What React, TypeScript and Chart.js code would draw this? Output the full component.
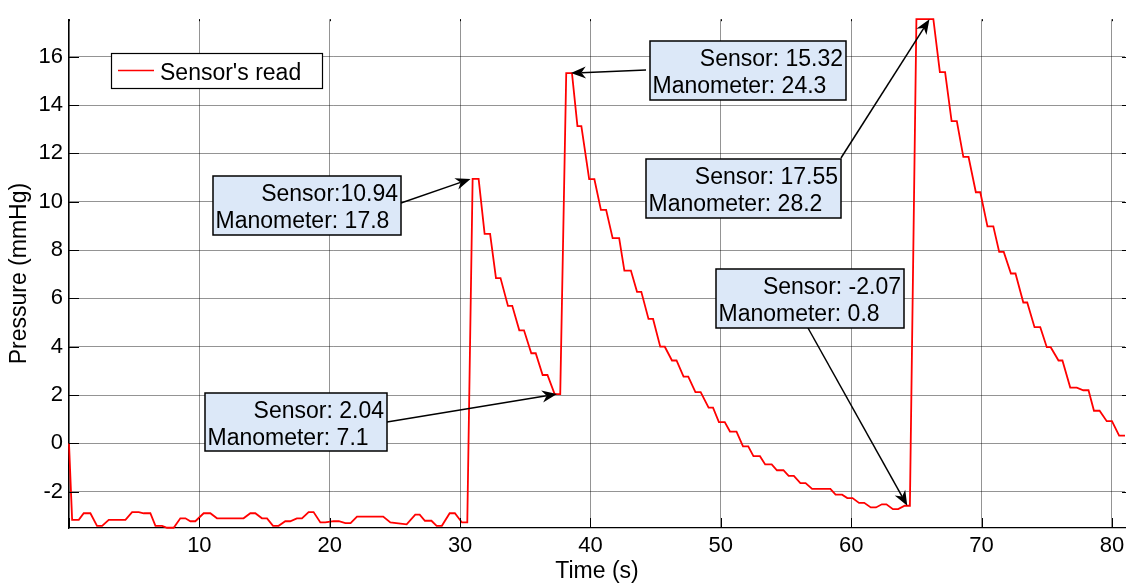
import React, { useEffect, useRef } from "react";
import { Chart, registerables } from "chart.js";

Chart.register(...registerables);

// ---------------- data ----------------
const timeS = [
  0, 0.24, 0.75, 1.13, 1.64, 2.15, 2.54, 3.05, 4.33, 4.84, 5.35, 5.73, 6.24, 6.63, 7.14, 7.52, 8.03,
  8.54, 8.93, 9.31, 9.69, 10.33, 10.84, 11.35, 13.39, 13.91, 14.29, 14.8, 15.19, 15.65, 16.08, 16.59,
  16.97, 17.48, 17.87, 18.38, 18.76, 19.28, 19.66, 20.3, 20.7, 21.2, 21.6, 22.09, 24.1, 24.65, 25.1,
  25.9, 26.56, 26.9, 27.3, 27.8, 28.2, 28.6, 29.2, 29.6, 30.14, 30.55,
  30.96, 31.42, 31.88, 32.3, 32.75, 33.1, 33.67, 34.0, 34.54, 34.9, 35.46, 35.8, 36.33, 36.7, 37.25, 37.68,
  38.14, 38.58, 39.0, 39.3, 39.9, 40.3, 40.8, 41.2, 41.7, 42.2, 42.6, 43.1, 43.57, 43.9, 44.45, 44.8,
  45.35, 45.7, 46.25, 46.6, 47.14, 47.5, 48.05, 48.45, 49.06, 49.4, 49.85, 50.3, 50.7, 51.2, 51.7, 52.1,
  52.5, 53.0, 53.4, 53.9, 54.3, 54.8, 55.2, 55.6, 56.1, 56.5, 57.0, 58.4, 58.8, 59.3, 59.7, 60.1, 60.6,
  61.0, 61.5, 61.9, 62.35, 62.7, 63.2, 63.6, 64.1, 64.5,
  65.0, 66.3, 66.8, 67.2, 67.7, 68.1, 68.6, 69.0, 69.56, 69.9, 70.45, 70.9, 71.35, 71.7, 72.25, 72.6,
  73.2, 73.5, 74.06, 74.5, 75.0, 75.3, 75.9, 76.2, 76.8, 77.3, 77.8, 78.2, 78.62, 79.05, 79.6, 80.0,
  80.55, 81.0,
];

const pressure = [
  0, -3.16, -3.16, -2.89, -2.89, -3.41, -3.41, -3.16, -3.16, -2.84, -2.84, -2.89, -2.89, -3.41, -3.41,
  -3.49, -3.49, -3.1, -3.1, -3.22, -3.22, -2.89, -2.89, -3.1, -3.1, -2.89, -2.89, -3.1, -3.1, -3.41,
  -3.41, -3.22, -3.22, -3.1, -3.1, -2.84, -2.84, -3.27, -3.27, -3.22, -3.22, -3.3, -3.3, -3.03, -3.03,
  -3.27, -3.3, -3.35, -2.95, -2.95, -3.2, -3.2, -3.41, -3.41, -2.89, -2.89, -3.27, -3.27,
  10.94, 10.94, 8.67, 8.67, 6.84, 6.84, 5.69, 5.69, 4.68, 4.68, 3.73, 3.73, 2.83, 2.83, 2.04, 2.04,
  15.32, 15.32, 13.13, 13.13, 10.93, 10.93, 9.66, 9.66, 8.49, 8.49, 7.15, 7.15, 6.27, 6.27, 5.15, 5.15,
  4.0, 4.0, 3.43, 3.43, 2.76, 2.76, 2.12, 2.12, 1.48, 1.48, 0.88, 0.88, 0.49, 0.49, -0.12, -0.12,
  -0.53, -0.53, -0.87, -0.87, -1.11, -1.11, -1.34, -1.34, -1.64, -1.64, -1.88, -1.88, -2.12, -2.12,
  -2.26, -2.26, -2.46, -2.46, -2.65, -2.65, -2.52, -2.52, -2.72, -2.72, -2.58, -2.58,
  17.55, 17.55, 15.36, 15.36, 13.33, 13.33, 11.85, 11.85, 10.39, 10.39, 8.98, 8.98, 7.92, 7.92, 7.03,
  7.03, 5.83, 5.83, 4.81, 4.81, 3.98, 3.98, 3.43, 3.43, 2.31, 2.31, 2.2, 2.2, 1.35, 1.35, 0.92, 0.92,
  0.32, 0.32,
];

const xTickValues = [0, 10, 20, 30, 40, 50, 60, 70, 80];
const yTickValues = [-2, 0, 2, 4, 6, 8, 10, 12, 14, 16];
const xRange = [0, 81];
const yRange = [-3.5, 17.55];

const seriesLabel = "Sensor's read";
const xTitle = "Time (s)";
const yTitle = "Pressure (mmHg)";

const calloutSensor = ["Sensor:10.94", "Sensor: 2.04", "Sensor: 15.32", "Sensor: 17.55", "Sensor: -2.07"];
const calloutManometer = ["Manometer: 17.8", "Manometer: 7.1", "Manometer: 24.3", "Manometer: 28.2", "Manometer: 0.8"];
const calloutTipTime = [30.8, 37.43, 38.5, 66.0, 64.3];
const calloutTipPressure = [10.94, 2.04, 15.32, 17.55, -2.58];

// ---------------- layout / style ----------------
const W = 1135;
const H = 587;
const FONT = '"Liberation Sans", Arial, Helvetica, sans-serif';
const CALLOUT_BOXES = [
  [213, 176, 401, 235],
  [205, 393, 387, 451],
  [650, 41, 846, 100],
  [646, 159, 841, 218],
  [716, 269, 904, 328],
];
const CALLOUT_ARROW_START = [
  [401, 203],
  [387, 422],
  [646, 70],
  [841, 158],
  [808, 328],
];
const LEGEND_BOX = [111, 53, 322, 88];

const overlayPlugin = {
  id: "overlay",
  afterDraw(chart: any) {
    const { ctx, chartArea, scales } = chart;
    const xs = scales.x;
    const ys = scales.y;
    ctx.save();

    // inward tick marks
    ctx.strokeStyle = "#000";
    ctx.lineWidth = 1;
    ctx.beginPath();
    xTickValues.forEach((v) => {
      const px = Math.round(xs.getPixelForValue(v)) + 0.5;
      ctx.moveTo(px, chartArea.bottom);
      ctx.lineTo(px, chartArea.bottom - 10);
      ctx.moveTo(px, chartArea.top);
      ctx.lineTo(px, chartArea.top + 2);
    });
    yTickValues.forEach((v) => {
      const py = Math.round(ys.getPixelForValue(v)) + 0.5;
      ctx.moveTo(chartArea.left, py);
      ctx.lineTo(chartArea.left + 10, py);
      ctx.moveTo(chartArea.right - 3, py);
      ctx.lineTo(chartArea.right + 1, py);
    });
    ctx.stroke();

    // legend
    const [lx1, ly1, lx2, ly2] = LEGEND_BOX;
    ctx.fillStyle = "#fff";
    ctx.fillRect(lx1, ly1, lx2 - lx1, ly2 - ly1);
    ctx.strokeStyle = "#000";
    ctx.lineWidth = 1.2;
    ctx.strokeRect(lx1 + 0.5, ly1 + 0.5, lx2 - lx1, ly2 - ly1);
    ctx.strokeStyle = "#ff0000";
    ctx.lineWidth = 1.5;
    ctx.beginPath();
    ctx.moveTo(lx1 + 7, ly1 + 17.5);
    ctx.lineTo(lx1 + 43, ly1 + 17.5);
    ctx.stroke();
    ctx.fillStyle = "#000";
    ctx.font = `23px ${FONT}`;
    ctx.textBaseline = "alphabetic";
    ctx.textAlign = "left";
    ctx.fillText(seriesLabel, lx1 + 49, ly1 + 27);

    // callouts
    calloutSensor.forEach((s, i) => {
      const [x1, y1, x2, y2] = CALLOUT_BOXES[i];
      const [sx, sy] = CALLOUT_ARROW_START[i];
      const tx = xs.getPixelForValue(calloutTipTime[i]);
      const ty = ys.getPixelForValue(calloutTipPressure[i]);

      // arrow shaft
      const ang = Math.atan2(ty - sy, tx - sx);
      const L = 15;
      const hw = 6;
      const bx = tx - Math.cos(ang) * L * 0.7;
      const by = ty - Math.sin(ang) * L * 0.7;
      ctx.strokeStyle = "#000";
      ctx.lineWidth = 1.5;
      ctx.beginPath();
      ctx.moveTo(sx, sy);
      ctx.lineTo(bx, by);
      ctx.stroke();
      // arrow head (vback2 style)
      const backX = tx - Math.cos(ang) * L;
      const backY = ty - Math.sin(ang) * L;
      const nx = -Math.sin(ang);
      const ny = Math.cos(ang);
      ctx.fillStyle = "#000";
      ctx.beginPath();
      ctx.moveTo(tx, ty);
      ctx.lineTo(backX + nx * hw, backY + ny * hw);
      ctx.lineTo(bx, by);
      ctx.lineTo(backX - nx * hw, backY - ny * hw);
      ctx.closePath();
      ctx.fill();

      // box
      ctx.fillStyle = "#dce8f8";
      ctx.fillRect(x1, y1, x2 - x1, y2 - y1);
      ctx.strokeStyle = "#000";
      ctx.lineWidth = 1.5;
      ctx.strokeRect(x1, y1, x2 - x1, y2 - y1);
      ctx.fillStyle = "#000";
      ctx.font = `23px ${FONT}`;
      ctx.textBaseline = "alphabetic";
      ctx.textAlign = "right";
      ctx.fillText(s, x2 - 3, y1 + 24.5);
      ctx.textAlign = "left";
      ctx.fillText(calloutManometer[i], x1 + 2.5, y1 + 52);
    });

    ctx.restore();
  },
};

export default function App() {
  const canvasRef = useRef<HTMLCanvasElement | null>(null);

  useEffect(() => {
    document.body.style.margin = "0";
    const canvas = canvasRef.current;
    if (!canvas) return;
    const points = timeS.map((t, i) => ({ x: t, y: pressure[i] }));
    const chart = new Chart(canvas, {
      type: "line",
      data: {
        datasets: [
          {
            label: seriesLabel,
            data: points,
            borderColor: "#ff0000",
            borderWidth: 1.8,
            pointRadius: 0,
            tension: 0,
            fill: false,
            clip: 2,
          },
        ],
      },
      options: {
        animation: false,
        responsive: false,
        maintainAspectRatio: false,
        events: [],
        layout: { padding: { top: 9, right: 10, left: 0, bottom: 0 } },
        plugins: {
          legend: { display: false },
          tooltip: { enabled: false },
        },
        scales: {
          x: {
            type: "linear",
            min: xRange[0],
            max: xRange[1],
            afterBuildTicks: (scale: any) => {
              scale.ticks = xTickValues.map((v) => ({ value: v }));
            },
            afterFit: (scale: any) => {
              scale.height = 59;
            },
            ticks: {
              color: "#000",
              font: { family: FONT, size: 22 },
              padding: 5,
              maxRotation: 0,
              autoSkip: false,
              callback: (v: any) => (v === 0 ? "" : String(v)),
            },
            grid: {
              color: "rgba(0,0,0,0.42)",
              lineWidth: 1,
              drawTicks: false,
            },
            border: { display: true, color: "#000", width: 1.3 },
            title: {
              display: true,
              text: xTitle,
              color: "#000",
              font: { family: FONT, size: 23 },
              padding: { top: 0, bottom: 2 },
            },
          },
          y: {
            type: "linear",
            min: yRange[0],
            max: yRange[1],
            afterBuildTicks: (scale: any) => {
              scale.ticks = yTickValues.map((v) => ({ value: v }));
            },
            afterFit: (scale: any) => {
              scale.width = 69;
            },
            ticks: {
              color: "#000",
              font: { family: FONT, size: 22 },
              padding: 6,
              autoSkip: false,
              callback: (v: any) => String(v),
            },
            grid: {
              color: "rgba(0,0,0,0.42)",
              lineWidth: 1,
              drawTicks: false,
            },
            border: { display: true, color: "#000", width: 1.3 },
            title: {
              display: true,
              text: yTitle,
              color: "#000",
              font: { family: FONT, size: 23 },
              padding: { top: 6, bottom: 0 },
            },
          },
        },
      },
      plugins: [overlayPlugin],
    });
    return () => chart.destroy();
  }, []);

  return (
    <div style={{ width: W, height: H, position: "relative", background: "#fff" }}>
      <canvas ref={canvasRef} width={W} height={H} style={{ display: "block", width: W, height: H }} />
    </div>
  );
}
